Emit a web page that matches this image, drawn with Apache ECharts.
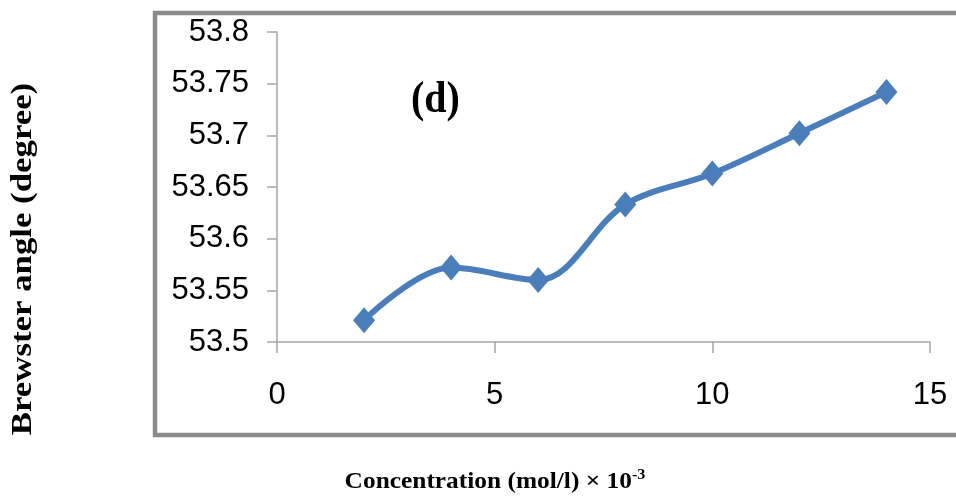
<!DOCTYPE html>
<html>
<head>
<meta charset="utf-8">
<script src="https://cdn.jsdelivr.net/npm/echarts@6/dist/echarts.min.js"></script>
<style>
  html, body { margin: 0; padding: 0; background: #fff; }
  #chart { width: 956px; height: 502px; }
</style>
</head>
<body>
<div id="chart"></div>
<script>
// Brewster angle versus concentration
const concentration = [2, 4, 6, 8, 10, 12, 14];
const brewsterAngle = [53.521, 53.572, 53.560, 53.633, 53.663, 53.702, 53.742];
const panelLabel = '(d)';
const xTitle = 'Concentration (mol/l) \u00d7 10';
const xTitleExp = '-3';
const yTitle = 'Brewster angle (degree)';

const chart = echarts.init(document.getElementById('chart'));
const axisGray = '#a6a6a6';
const tickFont = { fontFamily: 'Liberation Sans, Arial, sans-serif', fontSize: 31, color: '#000' };

chart.setOption({
  animation: false,
  backgroundColor: '#fff',
  grid: { left: 277, top: 32, right: 26, bottom: 160, containLabel: false },
  graphic: [
    {
      type: 'rect',
      shape: { x: 155, y: 13, width: 820, height: 422 },
      style: { fill: 'none', stroke: '#8c8c8c', lineWidth: 4.5 },
      silent: true
    },
    {
      type: 'text',
      left: 411, top: 79,
      scaleY: 1.1,
      style: { text: panelLabel, font: 'bold 40px "Liberation Serif", "Times New Roman", serif', fill: '#000' }
    },
    {
      type: 'text',
      x: 24, y: 259,
      rotation: Math.PI / 2,
      scaleX: 1.2,
      style: {
        text: yTitle,
        font: 'bold 29px "Liberation Serif", "Times New Roman", serif',
        fill: '#000',
        align: 'center',
        verticalAlign: 'middle'
      }
    },
    {
      type: 'text',
      x: 495, y: 482,
      scaleX: 1.08,
      style: {
        text: '{m|' + xTitle + '}{s|' + xTitleExp + '}',
        align: 'center',
        verticalAlign: 'middle',
        rich: {
          m: { font: 'bold 23.5px "Liberation Serif", "Times New Roman", serif', fill: '#000' },
          s: { font: 'bold 15px "Liberation Serif", "Times New Roman", serif', fill: '#000', padding: [0, 0, 13, 0] }
        }
      }
    }
  ],
  xAxis: {
    type: 'value',
    min: 0, max: 15, interval: 5,
    axisLine: { show: true, onZero: false, lineStyle: { color: axisGray, width: 1.5 } },
    axisTick: { show: true, inside: false, length: 11, lineStyle: { color: axisGray, width: 1.5 } },
    axisLabel: Object.assign({ margin: 38 }, tickFont),
    splitLine: { show: false }
  },
  yAxis: {
    type: 'value',
    min: 53.5, max: 53.8, interval: 0.05,
    axisLine: { show: true, lineStyle: { color: axisGray, width: 1.5 } },
    axisTick: { show: true, inside: false, length: 10, lineStyle: { color: axisGray, width: 1.5 } },
    axisLabel: Object.assign({ margin: 28, formatter: v => String(+v.toFixed(2)) }, tickFont),
    splitLine: { show: false }
  },
  series: [{
    type: 'line',
    data: concentration.map((c, i) => [c, brewsterAngle[i]]),
    smooth: 0.35,
    symbol: 'diamond',
    symbolSize: [22, 26],
    itemStyle: { color: '#4a7ebb' },
    lineStyle: { color: '#4a7ebb', width: 6 }
  }]
});
</script>
</body>
</html>
